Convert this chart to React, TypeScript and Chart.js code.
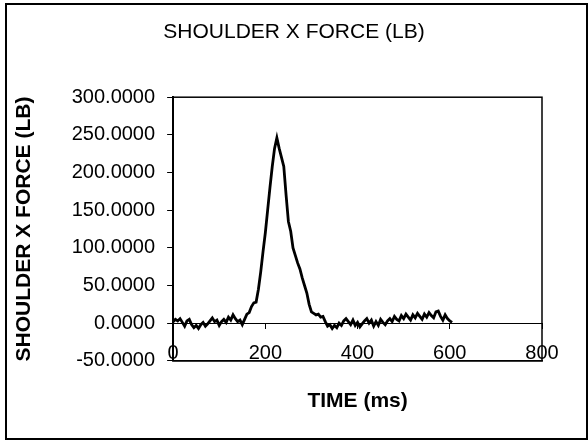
import React, { useEffect, useRef } from "react";
import { Chart, registerables } from "chart.js";

Chart.register(...registerables);

const chartTitle = "SHOULDER X FORCE (LB)";
const xTitle = "TIME (ms)";
const yTitle = "SHOULDER X FORCE (LB)";

const xMin = 0;
const xMax = 800;
const xStep = 200;
const yMin = -50;
const yMax = 300;
const yStep = 50;

const timeMs = [
  0, 5, 10, 15, 20, 25, 30, 35, 40, 45, 50, 55, 60, 65, 70, 75, 80, 85, 90, 95,
  100, 105, 110, 115, 120, 125, 130, 135, 140, 145, 150, 155, 160, 165, 170, 175, 180, 185, 190, 195,
  200, 205, 210, 215, 220, 225, 230, 235, 240, 245, 250, 255, 260, 265, 270, 275, 280, 285, 290, 295,
  300, 305, 310, 315, 320, 325, 330, 335, 340, 345, 350, 355, 360, 365, 370, 375, 380, 385, 390, 395,
  400, 405, 410, 415, 420, 425, 430, 435, 440, 445, 450, 455, 460, 465, 470, 475, 480, 485, 490, 495,
  500, 505, 510, 515, 520, 525, 530, 535, 540, 545, 550, 555, 560, 565, 570, 575, 580, 585, 590, 595,
  600, 605,
];

const forceLb = [
  2, 5, 3, 6, 1, -4, 3, 5, -2, -6, -3, -7, -2, 1, -4, -1, 3, 7, 2, 4,
  -3, 2, 5, 1, 8, 4, 11, 6, 2, 4, -2, 5, 12, 14, 22, 27, 28, 45, 68, 95,
  120, 150, 180, 208, 232, 246, 232, 220, 208, 170, 135, 122, 100, 90, 80, 72, 60, 50, 40, 25,
  15, 13, 11, 12, 8, 9, 2, -4, -2, -7, -3, -6, 0, -3, 3, 6, 2, -2, 4, -3,
  1, -5, -1, 3, 6, 0, 4, -4, 2, -3, 5, 1, -2, 3, 6, 2, 9, 5, 3, 10,
  6, 12, 8, 4, 11, 7, 13, 9, 5, 12, 8, 14, 10, 7, 15, 16, 9, 4, 11, 6,
  3, 1,
];

const FONT = "'Liberation Sans', Arial, Helvetica, sans-serif";

const framePlugin = {
  id: "plotFrame",
  afterDatasetsDraw(chart: any) {
    const { ctx, chartArea } = chart;
    const { left, top, right, bottom } = chartArea;
    ctx.save();
    ctx.strokeStyle = "#000";
    ctx.lineWidth = 1.5;
    ctx.strokeRect(left, top, right - left, bottom - top);
    ctx.restore();
  },
};

export default function App() {
  const ref = useRef<HTMLCanvasElement | null>(null);

  useEffect(() => {
    if (!ref.current) return;
    const points = timeMs.map((t, i) => ({ x: t, y: forceLb[i] }));
    const chart = new Chart(ref.current, {
      type: "line",
      data: {
        datasets: [
          {
            data: points,
            xAxisID: "x",
            yAxisID: "y",
            borderColor: "#000",
            borderWidth: 2.8,
            pointRadius: 0,
            tension: 0,
            fill: false,
          },
        ],
      },
      options: {
        responsive: false,
        animation: false,
        layout: { padding: { left: 46, right: 46, top: 0, bottom: 0 } },
        plugins: {
          legend: { display: false },
          tooltip: { enabled: false },
          title: {
            display: true,
            text: chartTitle,
            color: "#000",
            font: { family: FONT, size: 21, weight: "normal" },
            padding: { top: 20, bottom: 52 },
          },
        },
        scales: {
          x: {
            type: "linear",
            position: "bottom",
            min: xMin,
            max: xMax,
            ticks: {
              stepSize: xStep,
              color: "#000",
              mirror: true,
              padding: -5,
              maxRotation: 0,
              autoSkip: false,
              font: { family: FONT, size: 20 },
            },
            grid: { display: true, drawOnChartArea: false, drawTicks: false, color: "#000" },
            border: { display: true, color: "#000", width: 1.5 },
            title: {
              display: true,
              text: xTitle,
              color: "#000",
              font: { family: FONT, size: 21, weight: "bold" },
              padding: { top: 38, bottom: 26 },
            },
          },
          x2: {
            type: "linear",
            axis: "x",
            position: { y: 0 },
            min: xMin,
            max: xMax,
            ticks: { display: false, stepSize: xStep },
            grid: {
              display: true,
              drawOnChartArea: false,
              drawTicks: true,
              tickLength: 5,
              color: "#000",
              tickColor: "#000",
            },
            border: { display: true, color: "#000", width: 1 },
          },
          y: {
            type: "linear",
            position: "left",
            min: yMin,
            max: yMax,
            ticks: {
              stepSize: yStep,
              color: "#000",
              padding: 12,
              font: { family: FONT, size: 20 },
              callback: (v: any) => Number(v).toFixed(4),
            },
            grid: {
              display: true,
              drawOnChartArea: false,
              drawTicks: true,
              tickLength: 6,
              color: "#000",
              tickColor: "#000",
            },
            border: { display: true, color: "#000", width: 2 },
            title: {
              display: true,
              text: yTitle,
              color: "#000",
              font: { family: FONT, size: 21, weight: "bold" },
              padding: { top: -34.5, bottom: 23 },
            },
          },
        },
      },
      plugins: [framePlugin],
    } as any);
    return () => chart.destroy();
  }, []);

  return (
    <div style={{ position: "fixed", left: 0, top: 0, width: 588, height: 440, background: "#fff" }}>
      <canvas ref={ref} width={588} height={440} style={{ position: "absolute", left: 0, top: 0 }} />
      <div
        style={{
          position: "absolute",
          left: 5,
          top: 3,
          width: 583,
          height: 437,
          boxSizing: "border-box",
          border: "2px solid #000",
          pointerEvents: "none",
        }}
      />
    </div>
  );
}
